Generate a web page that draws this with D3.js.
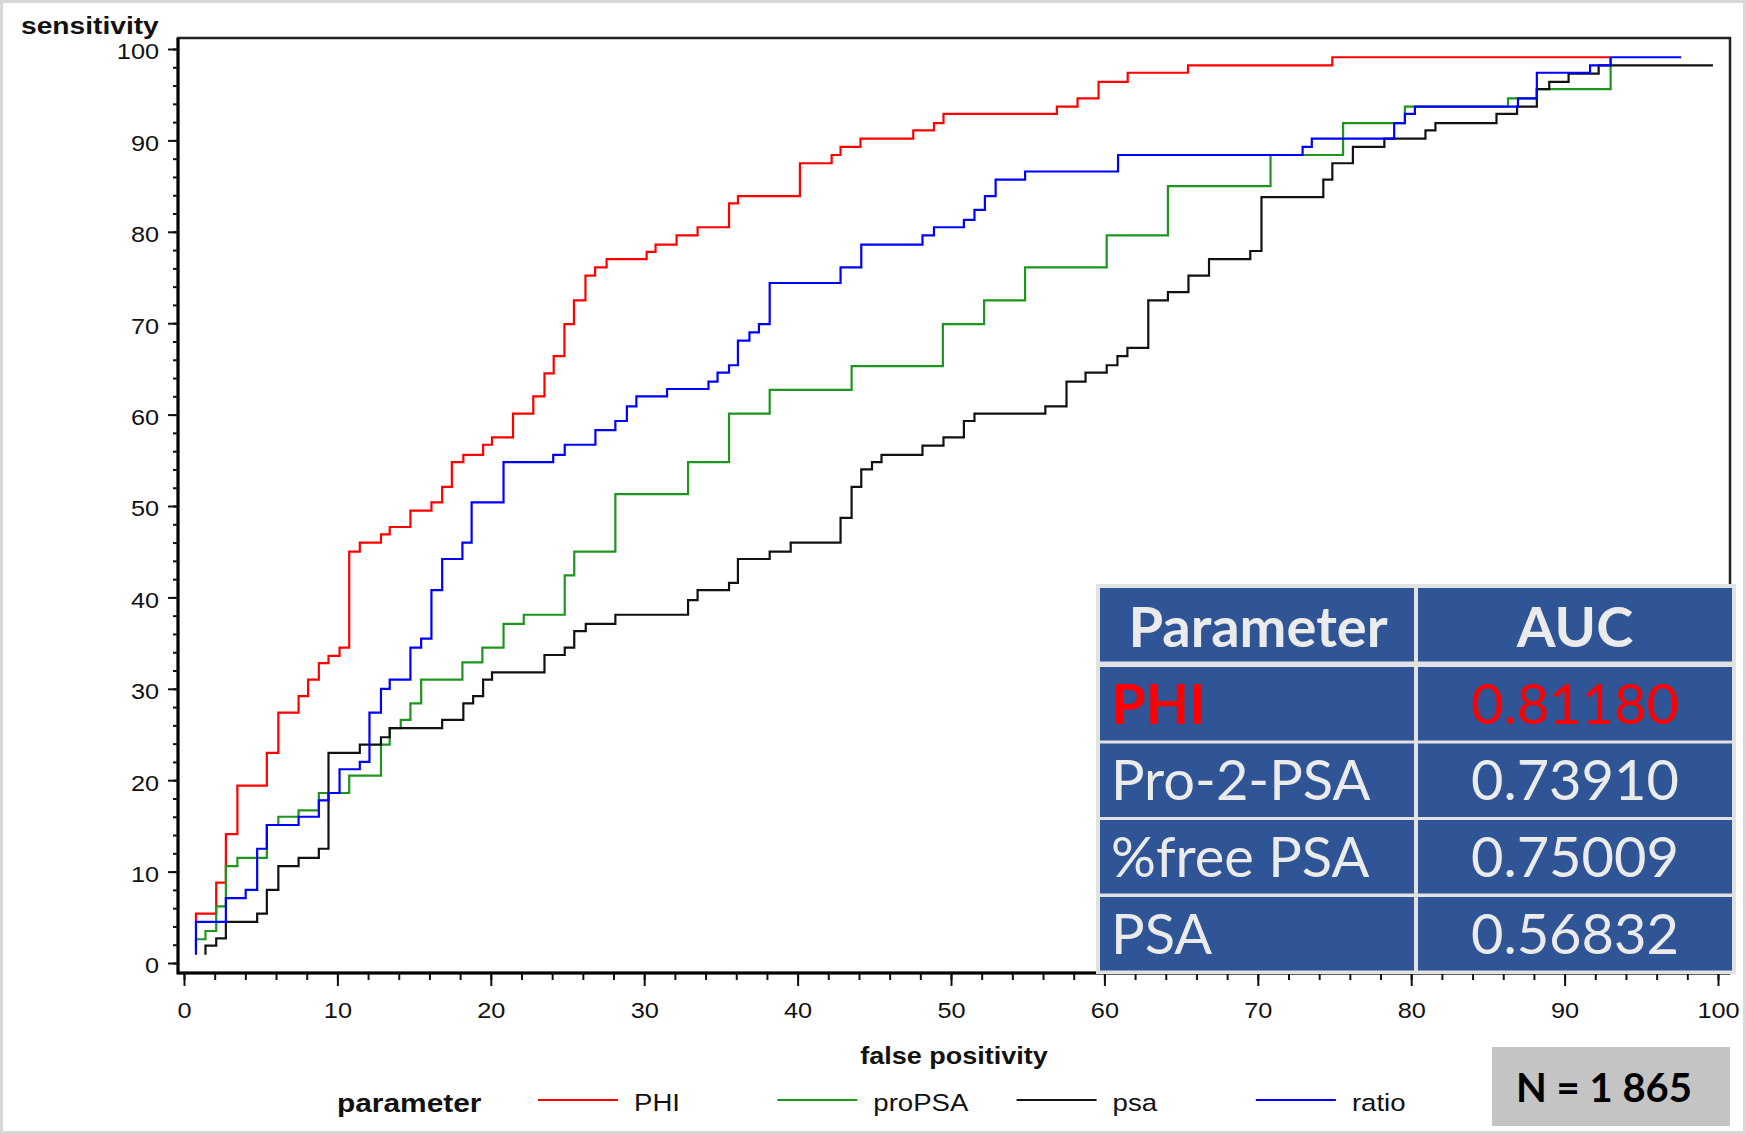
<!DOCTYPE html>
<html lang="en">
<head>
<meta charset="UTF-8">
<title>ROC curves: PHI, proPSA, psa, ratio</title>
<script src="https://d3js.org/d3.v7.min.js"></script>
<style>
  body { margin: 0; background: #fff; }
  svg { display: block; }
  .sas text { font-family: "Liberation Sans", Arial, sans-serif; fill: #111; }
  .tbl text, .nbox text { font-family: Lato, "Open Sans", sans-serif; }
</style>
</head>
<body>
<svg id="chart" width="1746" height="1134"></svg>
<script>
// ROC steps: false positivity (%) where the step happens, sensitivity (%) after it
const phiX = [0.78, 0.78, 2.10, 2.73, 3.48, 5.40, 6.15, 7.47, 8.09, 8.79, 9.42, 10.14, 10.77, 11.46, 12.84, 13.41, 14.76, 16.13, 16.83, 17.46, 18.21, 19.50, 20.08, 21.45, 22.77, 23.50, 24.10, 24.80, 25.42, 26.17, 26.80, 27.55, 30.16, 30.74, 32.11, 33.48, 35.53, 36.11, 40.15, 42.22, 42.80, 44.10, 47.54, 48.89, 49.51, 56.90, 58.25, 59.62, 61.52, 65.45, 74.86, 92.95];
const phiY = [4.5, 5.4, 8.8, 14.1, 19.4, 23.0, 27.4, 29.2, 31.0, 32.8, 33.6, 34.5, 45.0, 46.0, 46.9, 47.7, 49.5, 50.4, 52.1, 54.8, 55.6, 56.7, 57.5, 60.1, 62.0, 64.5, 66.4, 69.9, 72.5, 75.2, 76.1, 77.0, 77.8, 78.6, 79.6, 80.5, 83.1, 83.9, 87.5, 88.4, 89.3, 90.2, 91.1, 91.9, 92.9, 93.7, 94.6, 96.4, 97.4, 98.2, 99.1, 99.1];

const proX = [0.78, 0.78, 1.40, 2.10, 2.73, 3.48, 5.40, 6.15, 7.47, 8.79, 10.77, 12.84, 13.41, 14.13, 14.76, 15.46, 18.15, 19.45, 20.83, 22.15, 24.82, 25.44, 28.12, 32.86, 35.53, 38.18, 43.52, 49.47, 52.16, 54.83, 60.15, 64.14, 70.83, 75.56, 79.59, 86.31, 88.19, 93.0];
const proY = [1.5, 2.6, 3.5, 6.2, 10.6, 11.5, 15.1, 16.0, 16.7, 18.6, 20.5, 23.9, 25.7, 26.6, 28.4, 31.0, 32.9, 34.5, 37.1, 38.1, 42.4, 45.0, 51.3, 54.8, 60.1, 62.7, 65.3, 69.9, 72.5, 76.1, 79.6, 85.0, 88.4, 91.9, 93.7, 94.6, 95.6, 99.1];

const psaX = [1.40, 1.40, 2.10, 2.73, 4.77, 5.40, 6.15, 7.47, 8.79, 9.42, 11.46, 12.84, 13.41, 16.83, 18.21, 18.85, 19.50, 20.08, 23.50, 24.82, 25.44, 26.19, 28.12, 32.86, 33.48, 35.53, 36.11, 38.18, 39.55, 42.80, 43.52, 44.15, 44.85, 45.47, 48.14, 49.51, 50.84, 51.53, 56.15, 57.53, 58.77, 60.15, 60.85, 61.50, 62.86, 64.14, 65.48, 66.82, 69.51, 70.24, 74.27, 74.86, 76.20, 78.25, 80.93, 81.58, 85.56, 86.90, 88.19, 89.00, 90.26, 92.22, 99.67];
const psaY = [0.9, 1.9, 2.7, 4.5, 5.4, 8.0, 10.6, 11.5, 12.5, 23.0, 23.9, 24.7, 25.7, 26.6, 28.4, 29.2, 31.0, 31.8, 33.7, 34.5, 36.3, 37.1, 38.1, 39.7, 40.8, 41.6, 44.2, 45.0, 46.0, 48.7, 52.1, 54.0, 54.8, 55.6, 56.6, 57.5, 59.3, 60.1, 60.9, 63.6, 64.6, 65.4, 66.4, 67.3, 72.5, 73.4, 75.2, 77.0, 77.9, 83.8, 85.7, 87.5, 89.3, 90.2, 91.1, 91.9, 92.9, 93.7, 95.6, 96.4, 97.3, 98.2, 98.2];

const ratioX = [0.78, 0.78, 2.73, 4.02, 4.77, 5.40, 7.47, 8.79, 9.42, 10.14, 11.46, 12.09, 12.84, 13.41, 14.76, 15.46, 16.13, 16.83, 18.15, 18.75, 20.83, 24.07, 24.82, 26.82, 28.12, 28.87, 29.49, 31.49, 34.19, 34.78, 35.53, 36.11, 36.86, 37.48, 38.18, 42.80, 44.15, 48.14, 48.89, 50.84, 51.53, 52.21, 52.91, 54.83, 60.89, 72.92, 73.52, 78.89, 79.59, 80.24, 86.96, 88.19, 91.66, 93.0, 97.6];
const ratioY = [0.9, 4.5, 7.1, 8.0, 12.5, 15.1, 16.0, 17.8, 18.6, 21.2, 22.0, 27.4, 30.0, 31.0, 34.5, 35.5, 40.8, 44.2, 46.0, 50.4, 54.8, 55.6, 56.7, 58.3, 59.3, 60.9, 62.0, 62.8, 63.6, 64.6, 65.4, 68.1, 69.0, 69.9, 74.4, 76.1, 78.6, 79.6, 80.5, 81.3, 82.4, 83.9, 85.7, 86.6, 88.4, 89.3, 90.2, 91.9, 92.9, 93.7, 94.6, 97.4, 98.2, 99.1, 99.1];

const seriesNames = ["PHI", "proPSA", "psa", "ratio"];
const seriesColors = ["#ff0000", "#1e961e", "#111111", "#0000ff"];

const aucParams = ["PHI", "Pro-2-PSA", "%free PSA", "PSA"];
const aucValues = ["0.81180", "0.73910", "0.75009", "0.56832"];
const tableHeader = ["Parameter", "AUC"];

const majorTicks = d3.range(0, 101, 10);
const minorTicks = d3.range(0, 101, 2);
const nLabel = "N = 1 865";

const series = [
    { fpr: phiX, sens: phiY },
    { fpr: proX, sens: proY },
    { fpr: psaX, sens: psaY },
    { fpr: ratioX, sens: ratioY }
].map((s, i) => ({ ...s, name: seriesNames[i], color: seriesColors[i] }));

const svg = d3.select("#chart");
const SX = 1.15; // the SAS picture is stretched sideways a little

const frame = { left: 178, right: 1730, top: 38, bottom: 973 };
const x = d3.scaleLinear().domain([0, 100]).range([184, 1718]);
const y = d3.scaleLinear().domain([0, 100]).range([963, 49]);

// light border round the whole picture
svg.append("rect")
    .attr("x", 1.5).attr("y", 1.5).attr("width", 1743).attr("height", 1131)
    .attr("fill", "#fff").attr("stroke", "#d8d8d8").attr("stroke-width", 3);

const g = svg.append("g").attr("class", "sas");

// plot frame
g.append("rect")
    .attr("x", frame.left).attr("y", frame.top)
    .attr("width", frame.right - frame.left).attr("height", frame.bottom - frame.top)
    .attr("fill", "none").attr("stroke", "#222").attr("stroke-width", 2.5);
g.append("path")
    .attr("d", `M${frame.left},${frame.top}V${frame.bottom}H${frame.right}`)
    .attr("fill", "none").attr("stroke", "#000").attr("stroke-width", 3);

function cleanAxis(sel) {
    sel.select(".domain").remove();
    sel.selectAll(".tick line").attr("stroke", "#111").attr("stroke-width", 2);
}

// y axis: minor then major ticks
g.append("g").attr("transform", `translate(${frame.left},0)`)
    .call(d3.axisLeft(y).tickValues(minorTicks).tickSize(5).tickFormat(""))
    .call(cleanAxis);
g.append("g").attr("transform", `translate(${frame.left},0)`)
    .call(d3.axisLeft(y).tickValues(majorTicks).tickSize(10).tickFormat(d3.format("d")))
    .call(cleanAxis)
    .call(a => a.selectAll(".tick text")
        .attr("font-size", 22)
        .attr("fill", "#111")
        .attr("x", -19 / SX)
        .attr("dy", "0.45em")
        .attr("transform", `scale(${SX},1)`));

// x axis
g.append("g").attr("transform", `translate(0,${frame.bottom})`)
    .call(d3.axisBottom(x).tickValues(minorTicks).tickSize(7).tickFormat(""))
    .call(cleanAxis);
g.append("g").attr("transform", `translate(0,${frame.bottom})`)
    .call(d3.axisBottom(x).tickValues(majorTicks).tickSize(13).tickFormat(d3.format("d")))
    .call(cleanAxis)
    .call(a => a.selectAll(".tick text")
        .attr("font-size", 22)
        .attr("fill", "#111")
        .attr("y", 45)
        .attr("dy", 0)
        .attr("transform", `scale(${SX},1)`));

// axis titles
function stretchedText(parent, str, px, py, size, weight, anchor) {
    return parent.append("text")
        .attr("transform", `translate(${px},${py}) scale(${SX},1)`)
        .attr("font-size", size)
        .attr("font-weight", weight)
        .attr("text-anchor", anchor)
        .text(str);
}
stretchedText(g, "sensitivity", 21, 34, 24.5, "bold", "start");
stretchedText(g, "false positivity", 954, 1064, 23.5, "bold", "middle");

// ROC step curves
const line = d3.line()
    .x(d => x(d[0]))
    .y(d => y(d[1]))
    .curve(d3.curveStepAfter);

g.append("g").selectAll("path")
    .data(series)
    .join("path")
    .attr("d", s => line(d3.zip(s.fpr, s.sens)))
    .attr("fill", "none")
    .attr("stroke", s => s.color)
    .attr("stroke-width", 2.2)
    .attr("stroke-linejoin", "miter");

// legend
stretchedText(g, "parameter", 337, 1112, 26, "bold", "start");
const legendX0 = 538, legendStep = 239.3, legendY = 1100;
const legend = g.append("g").selectAll("g")
    .data(series)
    .join("g")
    .attr("transform", (s, i) => `translate(${legendX0 + i * legendStep},${legendY})`);
legend.append("line")
    .attr("x1", 0).attr("x2", 80).attr("y1", 0).attr("y2", 0)
    .attr("stroke", s => s.color).attr("stroke-width", 2);
legend.append("text")
    .attr("transform", `translate(96,11) scale(${SX},1)`)
    .attr("font-size", 24)
    .text(s => s.name);

// AUC table laid over the plot
const tbl = svg.append("g").attr("class", "tbl");
const colEdges = [1100, 1416, 1732];
const rowTops = [588, 667, 743.5, 820, 897];
const rowH = 73.5;
const tblFill = "#2f5597";

tbl.append("rect")
    .attr("x", 1096).attr("y", 584).attr("width", 640).attr("height", 390)
    .attr("fill", "#e2e2e2");

const rows = [tableHeader].concat(aucParams.map((p, i) => [p, aucValues[i]]));
const rowG = tbl.selectAll("g.row")
    .data(rows)
    .join("g")
    .attr("class", "row")
    .attr("transform", (r, i) => `translate(0,${rowTops[i]})`);

rowG.selectAll("rect")
    .data([0, 1])
    .join("rect")
    .attr("x", c => colEdges[c] + (c ? 2 : 0))
    .attr("y", 0)
    .attr("width", c => colEdges[c + 1] - colEdges[c] - 2)
    .attr("height", rowH)
    .attr("fill", tblFill);

rowG.each(function (r, i) {
    const row = d3.select(this);
    const isHeader = i === 0;
    const isPhi = r[0] === "PHI";
    const base = rowH / 2 + (isHeader ? 22 : 20);
    row.append("text")
        .attr("x", isHeader ? (colEdges[0] + colEdges[1]) / 2 : 1111)
        .attr("y", base)
        .attr("text-anchor", isHeader ? "middle" : "start")
        .attr("font-size", 56)
        .attr("font-weight", isHeader || isPhi ? "bold" : "normal")
        .attr("fill", isPhi ? "#ff0000" : "#ebebeb")
        .text(r[0]);
    row.append("text")
        .attr("x", (colEdges[1] + colEdges[2]) / 2 + 1)
        .attr("y", base)
        .attr("text-anchor", "middle")
        .attr("font-size", 56)
        .attr("font-weight", isHeader ? "bold" : "normal")
        .attr("fill", isPhi ? "#ff0000" : "#ebebeb")
        .text(r[1]);
});

// sample size box
const nbox = svg.append("g").attr("class", "nbox");
nbox.append("rect")
    .attr("x", 1492).attr("y", 1047).attr("width", 238).attr("height", 79)
    .attr("fill", "#c4c4c4");
nbox.append("text")
    .attr("x", 1604).attr("y", 1102)
    .attr("text-anchor", "middle")
    .attr("font-size", 40)
    .attr("font-weight", "bold")
    .attr("fill", "#000")
    .text(nLabel);
</script>
</body>
</html>
